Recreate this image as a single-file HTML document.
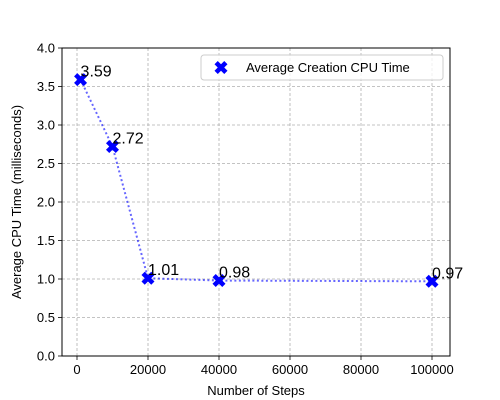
<!DOCTYPE html>
<html><head><meta charset="utf-8"><style>
html,body{margin:0;padding:0;background:#fff;}
svg{display:block;font-family:"Liberation Sans","DejaVu Sans",sans-serif;}
</style></head><body>
<svg id="chart" width="500" height="400"></svg>
<script>
const steps = [1000, 10000, 20000, 40000, 100000];
const cpuTimes = [3.59, 2.72, 1.01, 0.98, 0.97];
const valueLabels = ["3.59", "2.72", "1.01", "0.98", "0.97"];
const xTicks = [0, 20000, 40000, 60000, 80000, 100000];
const yTicks = [0.0, 0.5, 1.0, 1.5, 2.0, 2.5, 3.0, 3.5, 4.0];

const L=62, R=450, T=48, B=356;
const xMin=-4225, xMax=105070, yMin=0, yMax=4;
const sx = v => L + (v - xMin) / (xMax - xMin) * (R - L);
const sy = v => B - (v - yMin) / (yMax - yMin) * (B - T);
const NS = "http://www.w3.org/2000/svg";
const svg = document.getElementById('chart');
function mk(tag, attrs, parent){
  const e = document.createElementNS(NS, tag);
  for (const k in attrs) e.setAttribute(k, attrs[k]);
  (parent || svg).appendChild(e);
  return e;
}
function xMarker(cx, cy, s, parent){
  const a = s, b = s*0.5;
  const pts = [[-a,-a+b],[-a+b,-a],[0,-b],[a-b,-a],[a,-a+b],[b,0],[a,a-b],[a-b,a],[0,b],[-a+b,a],[-a,a-b],[-b,0]]
    .map(p => (cx+p[0]) + "," + (cy+p[1])).join(" ");
  return mk('polygon', {points: pts, fill: '#0000ff'}, parent);
}

const grid = mk('g', {});


xTicks.forEach(t => {
  const l = mk('line', {x1: sx(t), x2: sx(t), y1: T, y2: B, stroke: '#b0b0b0', 'stroke-width': 0.8, 'stroke-dasharray': '3,2'}, grid);
  
  
});
yTicks.forEach(t => {
  const l = mk('line', {x1: L, x2: R, y1: sy(t), y2: sy(t), stroke: '#b0b0b0', 'stroke-width': 0.8, 'stroke-dasharray': '3,2'}, grid);
  
  
});

xTicks.forEach(t => {
  mk('line', {x1: sx(t), x2: sx(t), y1: B, y2: B+4, stroke: '#000', 'stroke-width': 0.8});
  const tx = mk('text', {x: sx(t), y: B+18, 'text-anchor': 'middle', 'font-size': 13});
  tx.textContent = String(t);
  
  
});
yTicks.forEach(t => {
  mk('line', {x1: L-4, x2: L, y1: sy(t), y2: sy(t), stroke: '#000', 'stroke-width': 0.8});
  const tx = mk('text', {x: L-7, y: sy(t)+4.5, 'text-anchor': 'end', 'font-size': 13});
  tx.textContent = t.toFixed(1);
  
  
});

const line = mk('polyline', {points: steps.map((s, i) => sx(s) + "," + sy(cpuTimes[i])).join(" "), fill: 'none', stroke: '#0000ff', 'stroke-opacity': 0.6, 'stroke-width': 2, 'stroke-dasharray': '2,2.5'});



steps.forEach((s, i) => {
  const m = xMarker(sx(s), sy(cpuTimes[i]), 6.5);
  
  
  const tx = mk('text', {x: sx(s), y: sy(cpuTimes[i])-3, 'font-size': 16});
  tx.textContent = valueLabels[i];
  
  
});

const frame = mk('rect', {x: L, y: T, width: R-L, height: B-T, fill: 'none', stroke: '#000', 'stroke-width': 1});



const xt = mk('text', {x: (L+R)/2, y: 395, 'text-anchor': 'middle', 'font-size': 13});
xt.textContent = 'Number of Steps';


const yt = mk('text', {x: 0, y: 0, 'text-anchor': 'middle', 'font-size': 13, transform: 'translate(21,' + ((T+B)/2) + ') rotate(-90)'});
yt.textContent = 'Average CPU Time (milliseconds)';



const lg = mk('g', {});


mk('rect', {x: 201, y: 55, width: 242, height: 25, rx: 3, fill: '#fff', 'fill-opacity': 0.8, stroke: '#ccc', 'stroke-width': 1}, lg);
const lm = xMarker(221, 67.5, 6.5, lg);


const lt = mk('text', {x: 246, y: 72, 'font-size': 13}, lg);
lt.textContent = 'Average Creation CPU Time';


</script>
</body></html>
